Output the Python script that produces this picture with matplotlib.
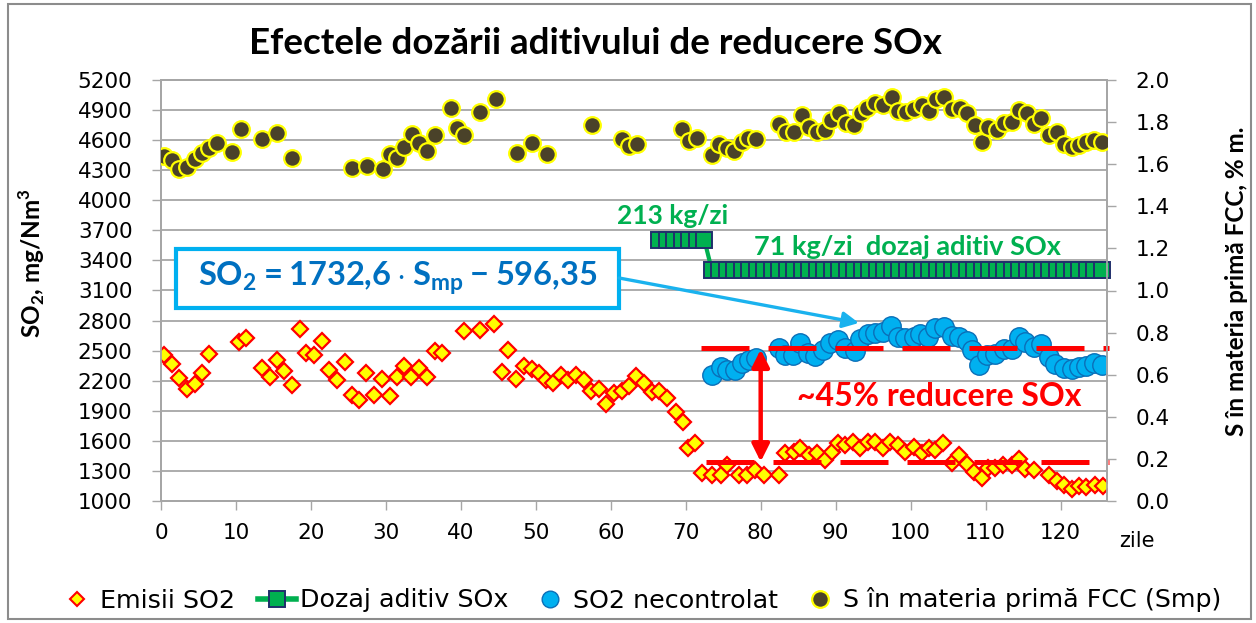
import matplotlib
matplotlib.use("Agg")
import matplotlib.pyplot as plt
from matplotlib.lines import Line2D
from matplotlib.patches import Rectangle

plt.rcParams['font.family'] = ['DejaVu Sans']
plt.rcParams['mathtext.fontset'] = 'custom'
plt.rcParams['mathtext.rm'] = 'Lato'
plt.rcParams['mathtext.bf'] = 'Lato:bold'

# --- date ---
# S in materia prima FCC, % m. (axa dreapta)
s_zile = [0.4, 1.5, 2.4, 3.5, 4.6, 5.5, 6.4, 7.5, 9.5, 10.7, 13.5, 15.5, 17.5,
          25.5, 27.5, 29.6, 30.5, 31.5, 32.4, 33.5, 34.4, 35.5, 36.6,
          38.7, 39.5, 40.4, 42.5, 44.7, 47.5, 49.5, 51.5, 57.5, 61.5, 62.4, 63.5,
          69.5, 70.4, 71.5, 73.5, 74.5, 75.5, 76.4, 77.5, 78.3, 79.4,
          82.4, 83.4, 84.4, 85.5, 86.4, 87.5, 88.6, 89.4, 90.4, 91.4,
          92.5, 93.4, 94.2, 95.2, 96.3, 97.5, 98.3, 99.4, 100.4, 101.5,
          102.4, 103.4, 104.4, 105.5, 106.6, 107.5, 108.6, 109.5, 110.3, 111.5,
          112.4, 113.5, 114.5, 115.5, 116.4, 117.4, 118.4, 119.5, 120.4, 121.5,
          122.5, 123.4, 124.5, 125.5]
s_val = [1.64, 1.62, 1.575, 1.588, 1.623, 1.655, 1.675, 1.699, 1.66, 1.766, 1.718, 1.75, 1.628,
         1.583, 1.59, 1.577, 1.648, 1.628, 1.683, 1.742, 1.699, 1.664, 1.739,
         1.866, 1.77, 1.739, 1.847, 1.908, 1.652, 1.699, 1.648, 1.786, 1.718, 1.686, 1.696,
         1.766, 1.712, 1.726, 1.644, 1.696, 1.676, 1.663, 1.707, 1.726, 1.718,
         1.791, 1.754, 1.754, 1.834, 1.778, 1.754, 1.762, 1.81, 1.842, 1.797,
         1.786, 1.842, 1.866, 1.889, 1.881, 1.921, 1.854, 1.849, 1.861, 1.881,
         1.854, 1.908, 1.921, 1.861, 1.866, 1.845, 1.786, 1.707, 1.775, 1.762,
         1.794, 1.802, 1.857, 1.842, 1.791, 1.818, 1.739, 1.754, 1.696, 1.683,
         1.691, 1.707, 1.715, 1.707]

# Emisii SO2, mg/Nm3
e_zile = [0.4, 1.5, 2.4, 3.5, 4.6, 5.5, 6.4, 10.4, 11.4, 13.5, 14.5, 15.5, 16.4, 17.5,
          18.5, 19.3, 20.4, 21.5, 22.4, 23.5, 24.6, 25.5, 26.4, 27.4, 28.4, 29.5,
          30.5, 31.5, 32.4, 33.4, 34.4, 35.5, 36.6, 37.5, 40.4, 42.5, 44.4, 45.5,
          46.3, 47.3, 48.4, 49.5, 50.4, 51.3, 52.3, 53.3, 54.3, 55.4, 56.4, 57.3,
          58.4, 59.4, 60.4, 61.5, 62.4, 63.4, 64.4, 65.5, 66.4, 67.5, 68.7, 69.6,
          70.3, 71.3, 72.2, 73.5, 74.7, 75.5, 77.1, 78.2, 79.3, 80.4, 82.4, 83.3,
          84.4, 85.3, 86.4, 87.5, 88.6, 89.5, 90.3, 91.3, 92.3, 93.3, 94.3, 95.3,
          96.3, 97.3, 98.3, 99.3, 100.4, 101.5, 102.4, 103.3, 104.3, 105.5, 106.5,
          107.5, 108.4, 109.5, 110.3, 111.3, 112.3, 113.5, 114.4, 115.3, 116.4,
          118.4, 119.5, 120.4, 121.5, 122.4, 123.4, 124.6, 125.6]
e_val = [2457, 2367, 2224, 2114, 2167, 2280, 2467, 2589, 2629, 2324, 2240, 2407, 2297, 2157,
         2713, 2479, 2457, 2599, 2307, 2207, 2390, 2058, 2008, 2274, 2058, 2214,
         2051, 2234, 2347, 2234, 2324, 2234, 2499, 2473, 2696, 2706, 2766, 2290,
         2506, 2214, 2347, 2314, 2274, 2207, 2180, 2257, 2204, 2257, 2207, 2097,
         2114, 1965, 2081, 2101, 2147, 2247, 2174, 2091, 2101, 2025, 1892, 1792,
         1526, 1576, 1277, 1260, 1260, 1359, 1260, 1260, 1310, 1260, 1260, 1482,
         1493, 1526, 1459, 1476, 1410, 1493, 1576, 1559, 1592, 1526, 1592, 1592,
         1526, 1592, 1559, 1493, 1542, 1476, 1526, 1509, 1576, 1376, 1459,
         1369, 1293, 1226, 1326, 1326, 1359, 1359, 1416, 1316, 1310,
         1260, 1203, 1160, 1117, 1150, 1137, 1160, 1150]

# SO2 necontrolat, mg/Nm3
n_zile = [73.5, 74.7, 75.5, 76.6, 77.5, 78.4, 79.4, 82.4, 83.3, 84.3, 85.3, 86.3,
          87.3, 88.3, 89.3, 90.3, 91.2, 92.6, 93.3, 94.3, 95.3, 96.3, 97.4, 98.3,
          99.3, 100.4, 101.3, 102.3, 103.3, 104.4, 105.5, 106.4, 107.5, 108.2, 109.1,
          110.2, 111.3, 112.4, 113.5, 114.4, 115.3, 116.4, 117.4, 118.5, 119.3,
          120.4, 121.5, 122.5, 123.4, 124.4, 125.5]
n_val = [2257, 2334, 2307, 2307, 2374, 2407, 2424, 2523, 2457, 2457, 2579, 2479,
         2447, 2506, 2573, 2606, 2523, 2499, 2613, 2666, 2679, 2689, 2746, 2639,
         2623, 2633, 2666, 2633, 2723, 2739, 2646, 2633, 2599, 2506, 2357,
         2457, 2467, 2513, 2513, 2633, 2589, 2539, 2566, 2433, 2367,
         2324, 2314, 2334, 2347, 2374, 2357]

# Dozaj aditiv SOx (213 kg/zi, apoi 71 kg/zi) pe scala din stanga
d_zile = [66.5, 67.5, 68.5, 69.5, 70.5, 71.5, 72.5,
          73.5, 74.5, 75.5, 76.5, 77.5, 78.5, 79.5, 80.5, 81.5, 82.5, 83.5, 84.5,
          85.5, 86.5, 87.5, 88.5, 89.5, 90.5, 91.5, 92.5, 93.5, 94.5, 95.5, 96.5,
          97.5, 98.5, 99.5, 100.5, 101.5, 102.5, 103.5, 104.5, 105.5, 106.5, 107.5,
          108.5, 109.5, 110.5, 111.5, 112.5, 113.5, 114.5, 115.5, 116.5, 117.5,
          118.5, 119.5, 120.5, 121.5, 122.5, 123.5, 124.5, 125.5]
d_val = [3600] * 7 + [3300] * 53

# niveluri medii (linii punctate rosii)
nivel_necontrolat = 2530
nivel_emisii = 1390

y1_ticks = list(range(1000, 5201, 300))
y2_ticks = [0.0, 0.2, 0.4, 0.6, 0.8, 1.0, 1.2, 1.4, 1.6, 1.8, 2.0]
x_ticks = list(range(0, 121, 10))

W, H = 1256, 623
gri = '#A6A6A6'

fig = plt.figure(figsize=(W / 100, H / 100), dpi=100)
ax = fig.add_axes([161 / W, 1 - 501 / H, (1107 - 161) / W, (501 - 80) / H])
ax2 = ax.twinx()

# serii
ax.plot(e_zile, e_val, ls='none', marker='D', ms=8.3, mfc='#FFFF00', mec='#FF0000',
        mew=1.6, zorder=3)
ax.plot(d_zile, d_val, color='#00B050', lw=3, marker='s', ms=12, mfc='#00B050',
        mec='#1F2F6B', mew=1.4, zorder=3, clip_on=False)
ax.plot(n_zile, n_val, ls='none', marker='o', ms=14, mfc='#00B0F0', mec='#0B6FB8',
        mew=1.0, zorder=3)
ax2.plot(s_zile, s_val, ls='none', marker='o', ms=12, mfc='#4A4229', mec='#FFFF00',
         mew=1.6, zorder=3)

# linii de nivel + sageata de reducere
ax.plot([72.1, 126.5], [nivel_necontrolat] * 2, color='#FF0000', lw=3.6,
        dashes=(9.6, 3.8), zorder=4, clip_on=False)
ax.plot([72.7, 126.5], [nivel_emisii] * 2, color='#FF0000', lw=3.6,
        dashes=(9.6, 3.8), zorder=4, clip_on=False)
ax.annotate('', xy=(80, 1392), xytext=(80, 2512),
            arrowprops=dict(arrowstyle='<|-|>', color='#FF0000', lw=3.2,
                            mutation_scale=26, shrinkA=0, shrinkB=0), zorder=5)
ax.text(103.8, 2047, '~45% reducere SOx', color='#FF0000', fontsize=23,
        fontweight='bold', family='Lato', ha='center', va='center', zorder=6)

# texte dozaj
ax.text(68.2, 3843, '213 kg/zi', color='#00B050', fontsize=19, fontweight='bold',
        family='Lato', ha='center', va='center', zorder=6)
ax.text(99.6, 3534, '71 kg/zi  dozaj aditiv SOx', color='#00B050', fontsize=19.5,
        fontweight='bold', family='Lato', ha='center', va='center', zorder=6)

# caseta cu ecuatia
ax.add_patch(Rectangle((2.04, 2925), 61.1 - 2.04, 3514 - 2925, facecolor='white',
                       edgecolor='#00B0F0', lw=3, zorder=6))
ax.text(31.6, 3222, r'$\mathbf{SO_2 = 1732{,}6 \cdot S_{mp} - 596{,}35}$',
        color='#0070C0', fontsize=23.5, ha='center', va='center', zorder=7)
ax.annotate('', xy=(93.1, 2776), xytext=(61.1, 3225),
            arrowprops=dict(arrowstyle='-|>', color='#1AB2EE', lw=2.4,
                            mutation_scale=24, shrinkA=0, shrinkB=0), zorder=6)

# axe
ax.set_xlim(0, 126.2)
ax.set_ylim(1000, 5200)
ax2.set_ylim(0, 2.0)
ax.set_xticks(x_ticks)
ax.set_yticks(y1_ticks)
ax2.set_yticks(y2_ticks)
ax2.yaxis.set_major_formatter('{x:.1f}')
ax.yaxis.grid(True, color=gri, lw=1.3)
ax.set_axisbelow(True)
for a in (ax, ax2):
    for sp in a.spines.values():
        sp.set_color(gri)
        sp.set_linewidth(1.3)
ax.tick_params(axis='y', direction='out', length=6.5, width=1, color=gri, pad=14,
               labelsize=15.5)
ax.tick_params(axis='x', direction='out', length=6.5, width=1, color=gri, pad=9,
               labelsize=15.5)
ax2.tick_params(axis='y', direction='out', length=6.5, width=1, color=gri, pad=14,
                labelsize=15.5)

# titluri
fig.text(595 / W, 1 - 43 / H, 'Efectele dozării aditivului de reducere SOx',
         family='Lato', fontweight='bold', fontsize=26.5, ha='center', va='center')
fig.text(32 / W, 1 - 263 / H, r'SO$_\mathbf{2}$, mg/Nm$^\mathbf{3}$', family='Lato',
         fontweight='bold', fontsize=17.5, rotation=90, ha='center', va='center')
fig.text(1237 / W, 1 - 281 / H, 'S în materia primă FCC, % m.', family='Lato',
         fontweight='bold', fontsize=17.5, rotation=90, ha='center', va='center')
fig.text(1137 / W, 1 - 541 / H, 'zile', fontsize=15, ha='center', va='center')

# legenda
handles = [
    Line2D([], [], ls='none', marker='D', ms=7.5, mfc='#FFFF00', mec='#FF0000', mew=1.5),
    Line2D([], [], color='#00B050', lw=4, marker='s', ms=12, mfc='#00B050',
           mec='#1F2F6B', mew=1.4),
    Line2D([], [], ls='none', marker='o', ms=12, mfc='#00B0F0', mec='#0B6FB8', mew=1.0),
    Line2D([], [], ls='none', marker='o', ms=12, mfc='#4A4229', mec='#FFFF00', mew=1.6),
]
labels = ['Emisii SO2', 'Dozaj aditiv SOx', 'SO2 necontrolat', 'S în materia primă FCC (Smp)']
fig.legend(handles, labels, loc='center', bbox_to_anchor=(640 / W, 1 - 600 / H), ncol=4,
           frameon=False, fontsize=18.3, handlelength=1.5, handletextpad=0.15,
           columnspacing=0.9)

# chenar grafic
fig.add_artist(Rectangle((8 / W, 4 / H), (1251 - 8) / W, (619 - 4) / H,
                         transform=fig.transFigure, fill=False, edgecolor='#8C8C8C',
                         lw=1.5))

fig.savefig('out.png', dpi=100)
